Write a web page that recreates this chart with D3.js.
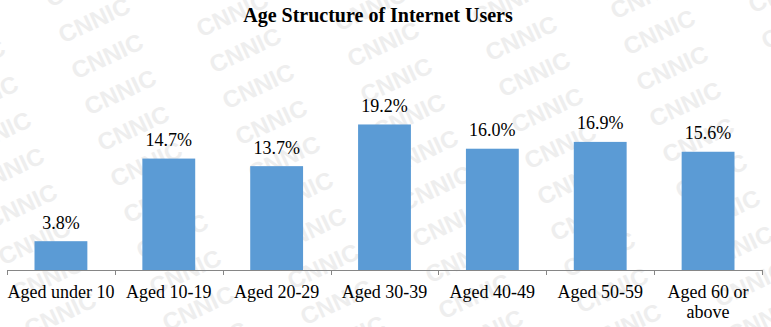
<!DOCTYPE html>
<html>
<head>
<meta charset="utf-8">
<script src="https://cdn.jsdelivr.net/npm/d3@7"></script>
<style>
  html, body { margin: 0; padding: 0; background: #fff; }
  svg { display: block; }
</style>
</head>
<body>
<svg id="chart" width="771" height="327"></svg>
<script>
// Share of internet users by age group (%)
const categories = ["Aged under 10", "Aged 10-19", "Aged 20-29", "Aged 30-39", "Aged 40-49", "Aged 50-59", "Aged 60 or above"];
const shares = [3.8, 14.7, 13.7, 19.2, 16.0, 16.9, 15.6];
const title = "Age Structure of Internet Users";
const watermark = "CNNIC";

const W = 771, H = 327;
const svg = d3.select("#chart");
const serif = "'Liberation Serif', 'Times New Roman', serif";

// faint repeated watermark tiled across the whole canvas, behind the chart
const wm = svg.append("g").attr("class", "watermark");
const wmCells = [];
for (let c = -2; c < 8; c++) {
  for (let r = -1; r < 11; r++) {
    wmCells.push({ x: 95 + c * 138 + r * 13, y: 22 + r * 36 - c * 6 });
  }
}
wm.selectAll("text").data(wmCells).join("text")
  .attr("transform", d => `translate(${d.x},${d.y}) rotate(-25)`)
  .attr("text-anchor", "middle")
  .attr("dominant-baseline", "middle")
  .attr("font-family", "'Liberation Sans', Arial, sans-serif")
  .attr("font-weight", "bold")
  .attr("font-size", 24)
  .attr("fill", "#eeeeee")
  .text(watermark);

const x0 = 7, x1 = 762, baseY = 270;

const xOuter = d3.scaleBand().domain(categories).range([x0, x1]).padding(0);
const x = d3.scaleBand().domain(categories).range([x0, x1])
  .paddingInner(0.51).paddingOuter(0.255);
const y = d3.scaleLinear().domain([0, 20]).range([baseY, baseY - 151.6]);

// title
svg.append("text")
  .attr("x", 378).attr("y", 21.5)
  .attr("text-anchor", "middle")
  .attr("font-family", serif)
  .attr("font-weight", "bold")
  .attr("font-size", 20)
  .attr("fill", "#000")
  .text(title);

// bars
svg.append("g").selectAll("rect").data(shares).join("rect")
  .attr("x", (d, i) => x(categories[i]))
  .attr("width", x.bandwidth())
  .attr("y", d => y(d))
  .attr("height", d => baseY - y(d))
  .attr("fill", "#5b9bd5");

// value labels
svg.append("g").selectAll("text").data(shares).join("text")
  .attr("x", (d, i) => x(categories[i]) + x.bandwidth() / 2)
  .attr("y", d => y(d) - 12.5)
  .attr("text-anchor", "middle")
  .attr("font-family", serif)
  .attr("font-size", 18)
  .attr("fill", "#000")
  .text(d => d.toFixed(1) + "%");

// category axis: baseline with tick marks between groups
const axis = svg.append("g").attr("stroke", "#868686").attr("stroke-width", 1);
axis.append("line")
  .attr("x1", x0).attr("x2", x1)
  .attr("y1", baseY + 0.5).attr("y2", baseY + 0.5);
const tickXs = categories.map(c => xOuter(c)).concat([x1]);
axis.selectAll("line.tick").data(tickXs).join("line")
  .attr("class", "tick")
  .attr("x1", d => Math.round(d) + 0.5).attr("x2", d => Math.round(d) + 0.5)
  .attr("y1", baseY).attr("y2", baseY + 5);

// category labels, wrapped to the group width
const labels = svg.append("g").selectAll("text").data(categories).join("text")
  .attr("x", d => xOuter(d) + xOuter.bandwidth() / 2)
  .attr("y", 297.5)
  .attr("text-anchor", "middle")
  .attr("font-family", serif)
  .attr("font-size", 18)
  .attr("fill", "#000");

labels.each(function(d) {
  const el = d3.select(this);
  const maxW = xOuter.bandwidth() + 2;
  const words = d.split(" ");
  let lines = [], line = [];
  const probe = el.append("tspan");
  words.forEach(w => {
    const trial = line.concat([w]).join(" ");
    probe.text(trial);
    if (probe.node().getComputedTextLength() > maxW && line.length) {
      lines.push(line.join(" "));
      line = [w];
    } else {
      line.push(w);
    }
  });
  lines.push(line.join(" "));
  probe.remove();
  lines.forEach((t, i) => {
    el.append("tspan")
      .attr("x", el.attr("x"))
      .attr("dy", i === 0 ? 0 : 20)
      .text(t);
  });
});
</script>
</body>
</html>
